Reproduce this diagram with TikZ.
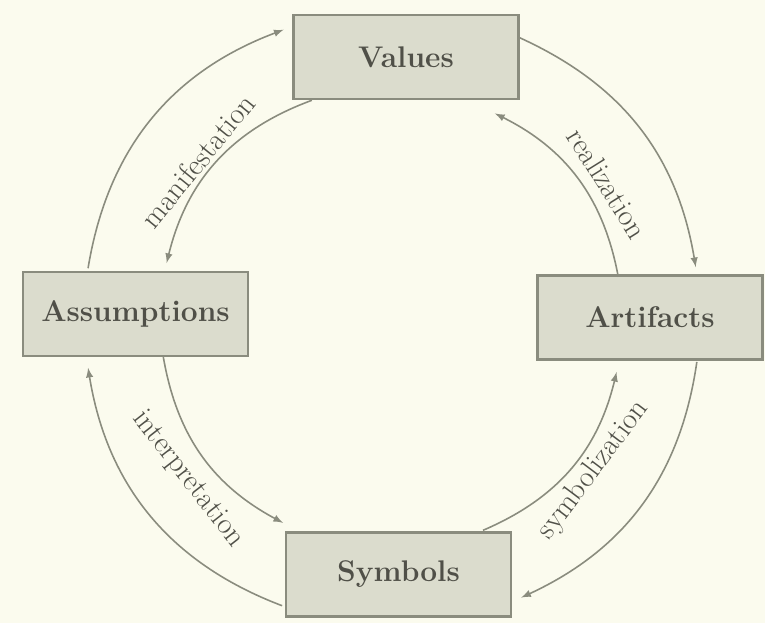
\documentclass[tikz,border=0pt]{standalone}
\usepackage{fontspec}
\usepackage{tikz}
\usetikzlibrary{arrows}
\definecolor{paper}{RGB}{251,251,238}
\definecolor{boxfill}{RGB}{219,220,205}
\definecolor{boxline}{RGB}{138,140,126}
\definecolor{inkgray}{RGB}{80,80,72}
\tikzset{
  cult_box/.style = {rectangle, draw=boxline, fill=boxfill, line width=1.2pt,
    minimum width=4.5cm, minimum height=1.68cm, text=inkgray,
    font=\fontsize{17}{20}\selectfont\bfseries},% boite d'un niveau
  cult_arc/.style = {draw=boxline, line width=0.9pt, -latex},% arc entre niveaux
  cult_lbl/.style = {inner sep=0pt, text=inkgray,
    font=\fontsize{17}{20}\selectfont\addfontfeatures{LetterSpace=10}}% texte le long d'un arc
}
\begin{document}
\begin{tikzpicture}
  \fill[paper] (-7.84,-6.1) rectangle (7.46,6.36);
  \useasboundingbox (-7.84,-6.1) rectangle (7.46,6.36);
  % niveaux
  \node [cult_box] (val) at (0.28,5.22) {Values};
  \node [cult_box] (asm) at (-5.13,0.08) {Assumptions};
  \node [cult_box] (art) at (5.16,0.01) {Artifacts};
  \node [cult_box] (sym) at (0.13,-5.13) {Symbols};
  % bouts des arcs, cercle exterieur
  \coordinate (o1) at (170.7:6.16);
  \coordinate (o2) at (110.6:6.16);
  \coordinate (o3) at (65.5:6.16);
  \coordinate (o4) at (9.5:6.16);
  \coordinate (o5) at (-8.2:6.16);
  \coordinate (o6) at (-65.2:6.16);
  \coordinate (o7) at (-110.9:6.16);
  \coordinate (o8) at (-170.7:6.16);
  % bouts des arcs, cercle interieur
  \coordinate (i1) at (110.2:4.64);
  \coordinate (i2) at (166.3:4.64);
  \coordinate (i3) at (10.3:4.6);
  \coordinate (i4) at (63.3:4.58);
  \coordinate (i5) at (-66.8:4.62);
  \coordinate (i6) at (-13.5:4.62);
  \coordinate (i7) at (-170.3:4.64);
  \coordinate (i8) at (-118:4.64);
  % arcs
  \draw [cult_arc] (o1) to[bend left=30] (o2);
  \draw [cult_arc] (i1) to[bend right=28] (i2);
  \draw [cult_arc] (o3) to[bend left=28] (o4);
  \draw [cult_arc] (i3) to[bend right=26.5] (i4);
  \draw [cult_arc] (o5) to[bend left=28.5] (o6);
  \draw [cult_arc] (i5) to[bend right=26.7] (i6);
  \draw [cult_arc] (o7) to[bend left=30] (o8);
  \draw [cult_arc] (i7) to[bend right=26] (i8);
  % textes
  \node [cult_lbl, rotate=51] (l_man) at (141:5.0) {manifestation};
  \node [cult_lbl, rotate=-58] (l_rea) at (32:5.08) {realization};
  \node [cult_lbl, rotate=-52] (l_int) at (-141.7:5.2) {interpretation};
  \node [cult_lbl, rotate=53] (l_sym) at (-37:5.05) {symbolization};
\end{tikzpicture}
\end{document}
